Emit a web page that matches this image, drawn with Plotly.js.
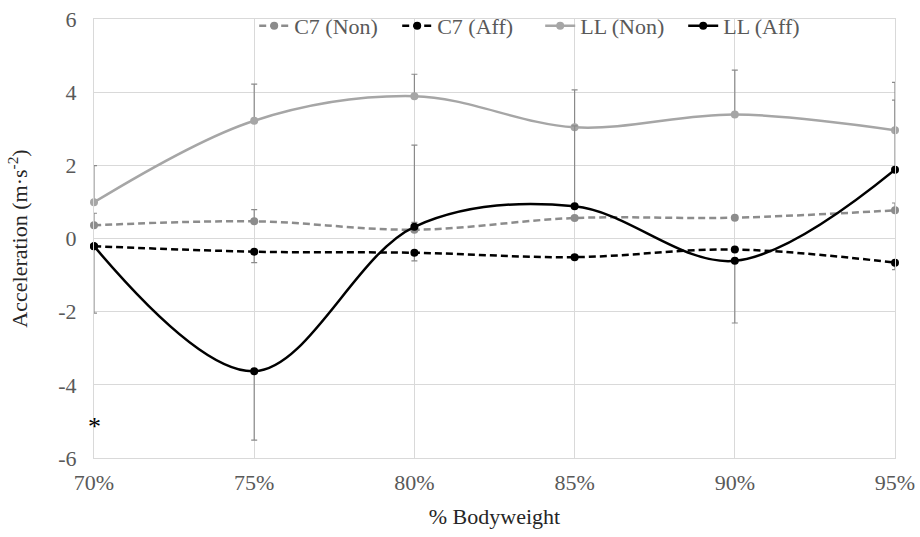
<!DOCTYPE html>
<html><head><meta charset="utf-8">
<script src="https://cdn.plot.ly/plotly-3.0.1.min.js"></script>
<style>html,body{margin:0;padding:0;background:#fff}#chart{width:920px;height:537px}</style>
</head><body><div id="chart"></div>
<script>
const categories = ['70%', '75%', '80%', '85%', '90%', '95%'];

const c7Non = [0.36, 0.47, 0.24, 0.56, 0.57, 0.77];
const c7NonErrPlus = [0.33, 0.32, 0.2, 0, 0, 0.2];
const c7NonErrMinus = [0, 0, 0, 0, 0, 0];

const c7Aff = [-0.21, -0.36, -0.39, -0.51, -0.30, -0.66];
const c7AffErrPlus = [0, 0, 0, 0, 0, 0];
const c7AffErrMinus = [0, 0.3, 0.22, 0, 0, 0.19];

const llNon = [0.99, 3.22, 3.89, 3.04, 3.39, 2.96];
const llNonErrPlus = [1.0, 1.0, 0.6, 1.02, 1.21, 1.31];
const llNonErrMinus = [0, 0, 0, 0, 0, 0];

const llAff = [-0.21, -3.63, 0.32, 0.88, -0.61, 1.88];
const llAffErrPlus = [0, 0, 2.23, 2.2, 0, 1.9];
const llAffErrMinus = [1.83, 1.88, 0, 0, 1.7, 0];

const yTickVals = [-6, -4, -2, 0, 2, 4, 6];
const yTickText = ['-6', '-4', '-2', '0', '2', '4', '6'];

const seriesNames = ['C7 (Non)', 'C7 (Aff)', 'LL (Non)', 'LL (Aff)'];
const note = '*';

const FONT = 'Liberation Serif';

function errBars(plus, minus) {
  return {type: 'data', symmetric: false, array: plus, arrayminus: minus,
          color: '#8a8a8a', thickness: 1.2, width: 3};
}

const traces = [
  {x: categories, y: c7Non, name: seriesNames[0], mode: 'lines+markers',
   line: {color: '#8c8c8c', width: 2.5, dash: '7px,4px', shape: 'spline', smoothing: 1},
   marker: {color: '#8c8c8c', size: 8}, cliponaxis: false,
   error_y: errBars(c7NonErrPlus, c7NonErrMinus)},
  {x: categories, y: c7Aff, name: seriesNames[1], mode: 'lines+markers',
   line: {color: '#000000', width: 2.5, dash: '7px,4px', shape: 'spline', smoothing: 1},
   marker: {color: '#000000', size: 8}, cliponaxis: false,
   error_y: errBars(c7AffErrPlus, c7AffErrMinus)},
  {x: categories, y: llNon, name: seriesNames[2], mode: 'lines+markers',
   line: {color: '#a6a6a6', width: 2.5, shape: 'spline', smoothing: 1},
   marker: {color: '#a6a6a6', size: 8}, cliponaxis: false,
   error_y: errBars(llNonErrPlus, llNonErrMinus)},
  {x: categories, y: llAff, name: seriesNames[3], mode: 'lines+markers',
   line: {color: '#000000', width: 2.5, shape: 'spline', smoothing: 1},
   marker: {color: '#000000', size: 8}, cliponaxis: false,
   error_y: errBars(llAffErrPlus, llAffErrMinus)}
];

const layout = {
  width: 920, height: 537,
  margin: {l: 94, r: 25, t: 19, b: 79, autoexpand: false},
  paper_bgcolor: '#ffffff', plot_bgcolor: '#ffffff',
  font: {family: FONT, size: 22, color: '#595959'},
  showlegend: true,
  legend: {orientation: 'h', x: 0.2, xanchor: 'left', xref: 'paper',
           y: 0.9907, yanchor: 'top', yref: 'container',
           bgcolor: 'rgba(0,0,0,0)', font: {family: FONT, size: 22, color: '#595959'},
           itemwidth: 30, tracegroupgap: 0, entrywidth: 98, entrywidthmode: 'pixels'},
  xaxis: {
    type: 'category', categoryorder: 'array', categoryarray: categories,
    range: [0, 5], showgrid: true, gridcolor: '#d9d9d9', gridwidth: 1,
    showline: true, linecolor: '#d9d9d9', linewidth: 1, mirror: true,
    zeroline: false, ticks: 'outside', ticklen: 5, tickcolor: 'rgba(0,0,0,0)',
    tickfont: {family: FONT, size: 22, color: '#595959'},
    title: {text: '% Bodyweight', font: {family: FONT, size: 22, color: '#262626'}, standoff: 14}
  },
  yaxis: {
    range: [-6, 6], tickmode: 'array', tickvals: yTickVals, ticktext: yTickText,
    showgrid: true, gridcolor: '#d9d9d9', gridwidth: 1,
    showline: true, linecolor: '#d9d9d9', linewidth: 1, mirror: true,
    zeroline: true, zerolinecolor: '#d9d9d9', zerolinewidth: 1,
    ticks: 'outside', ticklen: 12, tickcolor: 'rgba(0,0,0,0)',
    tickfont: {family: FONT, size: 22, color: '#595959'},
    title: {text: 'Acceleration (m·s<sup>-2</sup>)', font: {family: FONT, size: 22, color: '#262626'}, standoff: 24}
  },
  annotations: [{
    x: categories[0], y: -5.15, xref: 'x', yref: 'y', text: note, showarrow: false,
    xanchor: 'center', yanchor: 'middle', font: {family: FONT, size: 26, color: '#000000'}
  }]
};

Plotly.newPlot('chart', traces, layout, {displayModeBar: false, staticPlot: true});
</script>
</body></html>
